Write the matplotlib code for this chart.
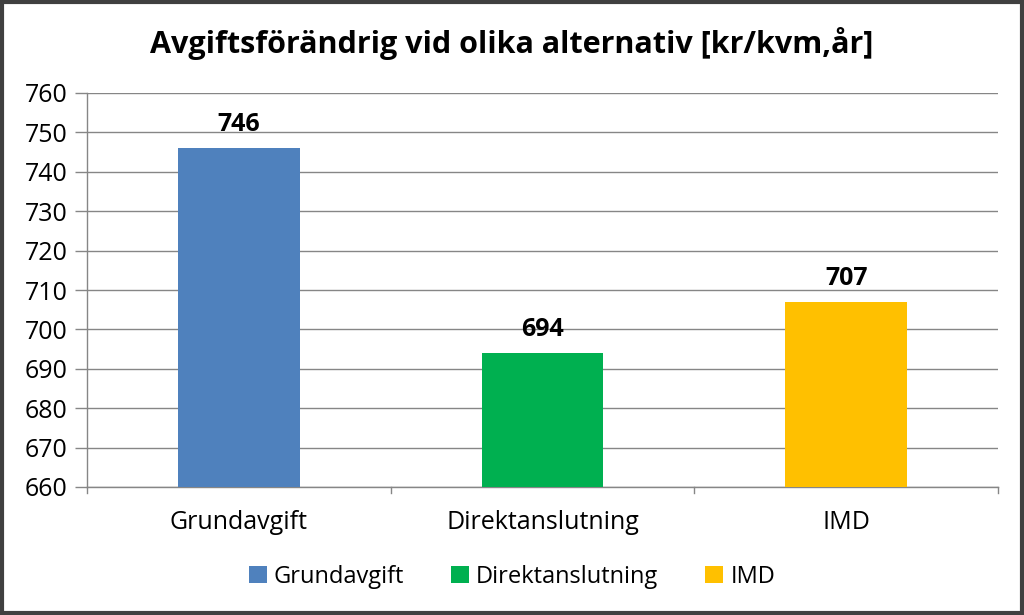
import matplotlib
matplotlib.use('Agg')
import matplotlib.pyplot as plt
from matplotlib.patches import Rectangle, Patch

# ── Data ────────────────────────────────────────────────────────────────────
categories = ["Grundavgift", "Direktanslutning", "IMD"]
values     = [746, 694, 707]
colors     = ["#4F81BD", "#00B050", "#FFC000"]
title      = "Avgiftsförändrig vid olika alternativ [kr/kvm,år]"

plt.rcParams['font.family'] = ['Open Sans', 'DejaVu Sans']

fig = plt.figure(figsize=(10.24, 6.15), dpi=100)
ax = fig.add_axes([87 / 1024, 1 - 487 / 615, (998 - 87) / 1024, (487 - 93) / 615])

x = range(len(categories))
bars = ax.bar(x, values, width=0.4, color=colors, zorder=3)
ax.set_ylim(660, 760)
ax.set_xlim(-0.5, len(categories) - 0.5)
ax.set_yticks(range(660, 761, 10))
ax.tick_params(axis='y', labelsize=18, length=9, width=1, color='#868686', pad=5)
ax.set_xticks([])
ax.grid(axis='y', color='#868686', lw=1, zorder=0)

for sp in ['top', 'right']:
    ax.spines[sp].set_visible(False)
for sp in ['left', 'bottom']:
    ax.spines[sp].set_color('#868686')
    ax.spines[sp].set_linewidth(1)

# category boundary ticks and labels
for b in [-0.5, 0.5, 1.5, 2.5]:
    ax.plot([b, b], [660, 658.5], color='#868686', lw=1, clip_on=False)
for i, c in enumerate(categories):
    ax.text(i, 651, c, ha='center', va='center', fontsize=18)

for rect, v in zip(bars, values):
    ax.text(rect.get_x() + rect.get_width() / 2, v + 6, f"{v}",
            ha='center', va='center', fontsize=18, fontweight='bold')

fig.text(0.5, 1 - 44 / 615, title, ha='center', va='center',
         fontsize=22, fontweight='bold')

handles = [Patch(facecolor=c, label=l) for c, l in zip(colors, categories)]
fig.legend(handles=handles, loc='center', bbox_to_anchor=(0.5, 1 - 577 / 615),
           ncol=3, frameon=False, fontsize=17, handlelength=0.75, handleheight=0.75,
           handletextpad=0.3, columnspacing=2.0)

fig.patches.append(Rectangle((0.002, 0.003), 0.996, 0.994, transform=fig.transFigure,
                             fill=False, edgecolor='#404040', lw=3))

fig.savefig("out.png", dpi=100)
